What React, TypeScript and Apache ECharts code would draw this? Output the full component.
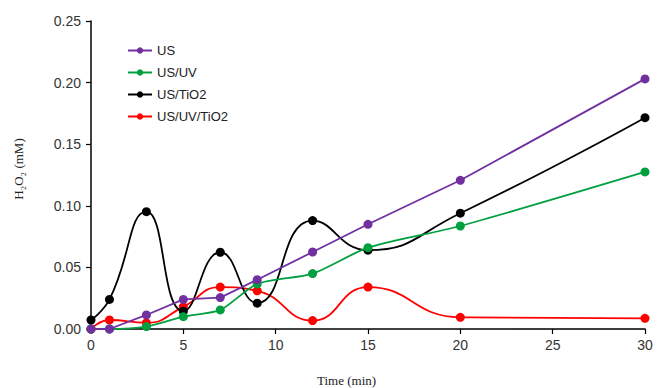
import React, { useEffect, useRef } from "react";
import * as echarts from "echarts";

const times = [0, 1, 3, 5, 7, 9, 12, 15, 20, 30];
const usValues = [0, 0, 0.0114, 0.024, 0.0255, 0.04, 0.0625, 0.085, 0.1207, 0.203];
const usUvValues = [0, 0, 0.002, 0.01, 0.0155, 0.0366, 0.045, 0.066, 0.0836, 0.1275];
const usTiO2Values = [0.0073, 0.024, 0.0952, 0.0145, 0.0623, 0.021, 0.088, 0.064, 0.094, 0.1715];
const usUvTiO2Values = [0, 0.0073, 0.005, 0.018, 0.034, 0.031, 0.0068, 0.034, 0.0095, 0.0087];
const seriesNames = ["US", "US/UV", "US/TiO2", "US/UV/TiO2"];
const seriesColors = ["#7030A0", "#00A040", "#000000", "#FF0000"];
const xTicks = [0, 5, 10, 15, 20, 25, 30];
const yTicks = [0, 0.05, 0.1, 0.15, 0.2, 0.25];

export default function App() {
  const ref = useRef<HTMLDivElement>(null);
  useEffect(() => {
    if (!ref.current) return;
    const chart = echarts.init(ref.current, null, { renderer: "svg" });
    const allValues = [usValues, usUvValues, usTiO2Values, usUvTiO2Values];
    const smooths = [false, 0.25, 0.5, 0.5];
    chart.setOption({
      animation: false,
      backgroundColor: "#ffffff",
      grid: { left: 91, right: 25, top: 21, bottom: 59 },
      legend: {
        orient: "vertical",
        left: 122,
        top: 39,
        itemWidth: 24,
        itemHeight: 8,
        itemGap: 9,
        textStyle: { fontFamily: "Liberation Sans, Arial, sans-serif", fontSize: 13, color: "#222" },
        data: seriesNames,
      },
      xAxis: {
        type: "value",
        min: xTicks[0],
        max: xTicks[xTicks.length - 1],
        interval: 5,
        axisLine: { lineStyle: { color: "#000", width: 1.5 } },
        axisTick: { show: true, length: 5, lineStyle: { color: "#000", width: 1.2 } },
        axisLabel: { fontFamily: "Liberation Sans, Arial, sans-serif", fontSize: 14, color: "#333", margin: 9 },
        splitLine: { show: false },
      },
      yAxis: {
        type: "value",
        min: yTicks[0],
        max: yTicks[yTicks.length - 1],
        interval: 0.05,
        axisLine: { show: true, lineStyle: { color: "#000", width: 1.5 } },
        axisTick: { show: true, length: 5, lineStyle: { color: "#000", width: 1.2 } },
        axisLabel: {
          fontFamily: "Liberation Sans, Arial, sans-serif",
          fontSize: 14,
          color: "#333",
          margin: 10,
          formatter: (v: number) => v.toFixed(2),
        },
        splitLine: { show: false },
      },
      graphic: [
        {
          type: "text",
          left: 317,
          top: 374,
          style: {
            text: "Time (min)",
            font: "13px 'Liberation Serif', 'Times New Roman', serif",
            fill: "#222",
          },
        },
        {
          type: "text",
          x: 18,
          y: 169,
          rotation: Math.PI / 2,
          style: {
            text: "H\u2082O\u2082 (mM)",
            font: "13px 'Liberation Serif', 'Times New Roman', serif",
            fill: "#222",
            align: "center",
            verticalAlign: "middle",
          },
        },
      ],
      series: seriesNames.map((name, i) => ({
        name,
        type: "line",
        data: times.map((t, j) => [t, allValues[i][j]]),
        smooth: smooths[i],
        symbol: "circle",
        symbolSize: 9,
        itemStyle: { color: seriesColors[i] },
        lineStyle: { color: seriesColors[i], width: 1.8 },
        z: 10 - i,
      })),
    });
    return () => chart.dispose();
  }, []);
  return <div ref={ref} style={{ width: 670, height: 388, position: "absolute", left: 0, top: 0 }} />;
}
